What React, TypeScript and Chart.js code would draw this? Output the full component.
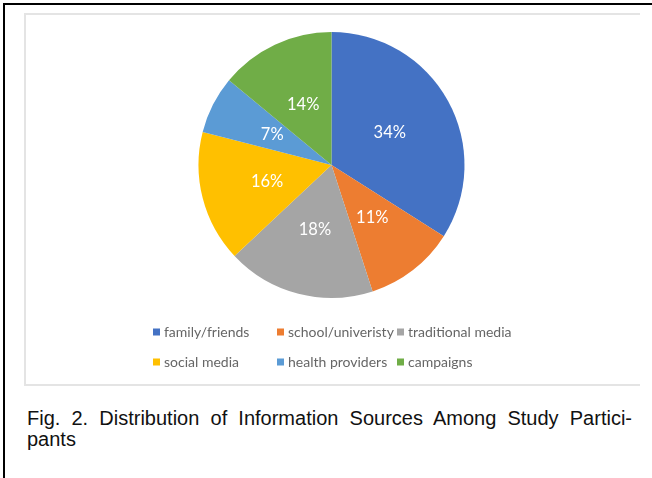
import React, { useEffect, useRef } from "react";
import { Chart, registerables } from "chart.js";

Chart.register(...registerables);

const categories = [
  "family/friends",
  "school/univeristy",
  "traditional media",
  "social media",
  "health providers",
  "campaigns",
];
const shares = [34, 11, 18, 16, 7, 14];
const sliceColors = ["#4472C4", "#ED7D31", "#A5A5A5", "#FFC000", "#5B9BD5", "#70AD47"];
const captionLine1 = "Fig. 2. Distribution of Information Sources Among Study Partici-";
const captionLine2 = "pants";

const labelPlugin = {
  id: "pctLabels",
  afterDatasetsDraw(chart: any) {
    const ctx = chart.ctx;
    const meta = chart.getDatasetMeta(0);
    const data = chart.data.datasets[0].data as number[];
    ctx.save();
    ctx.fillStyle = "#ffffff";
    ctx.font = "16.5px Lato";
    ctx.textAlign = "center";
    ctx.textBaseline = "middle";
    meta.data.forEach((arc: any, i: number) => {
      const p = arc.tooltipPosition(false);
      ctx.fillText(data[i] + "%", p.x, p.y);
    });
    ctx.restore();
  },
};

const legendPlugin = {
  id: "gridLegend",
  afterDraw(chart: any) {
    const ctx = chart.ctx;
    const labels = chart.data.labels as string[];
    const colors = chart.data.datasets[0].backgroundColor as string[];
    const colX = [128, 252, 372];
    const rowY = [318, 348];
    ctx.save();
    ctx.font = "14px Lato";
    ctx.textBaseline = "middle";
    ctx.textAlign = "left";
    labels.forEach((lab, i) => {
      const x = colX[i % 3];
      const y = rowY[Math.floor(i / 3)];
      ctx.fillStyle = colors[i];
      ctx.fillRect(x, y - 3.5, 7, 7);
      ctx.fillStyle = "#666666";
      ctx.fillText(lab, x + 11, y);
    });
    ctx.restore();
  },
};

export default function App() {
  const ref = useRef<HTMLCanvasElement>(null);
  useEffect(() => {
    if (!ref.current) return;
    const chart = new Chart(ref.current, {
      type: "pie",
      data: {
        labels: categories,
        datasets: [
          {
            data: shares,
            backgroundColor: sliceColors,
            borderWidth: 0,
          },
        ],
      },
      options: {
        responsive: false,
        animation: false,
        layout: { padding: { top: 18, bottom: 85, left: 0, right: 0 } },
        plugins: {
          legend: { display: false },
          tooltip: { enabled: false },
        },
      },
      plugins: [labelPlugin, legendPlugin],
    });
    return () => chart.destroy();
  }, []);

  return (
    <div
      style={{
        position: "absolute",
        left: 0,
        top: 0,
        width: 652,
        height: 478,
        overflow: "hidden",
        background: "#fff",
      }}
    >
      <div
        style={{
          position: "absolute",
          left: 3,
          top: 3,
          width: 800,
          height: 800,
          borderLeft: "2px solid #000",
          borderTop: "2px solid #000",
        }}
      />
      <div
        style={{
          position: "absolute",
          left: 24,
          top: 13,
          width: 614,
          height: 369,
          borderLeft: "2px solid #e4e4e4",
          borderTop: "2px solid #e4e4e4",
          borderBottom: "2px solid #e4e4e4",
        }}
      />
      <canvas
        ref={ref}
        width={613}
        height={369}
        style={{ position: "absolute", left: 25, top: 14, width: 613, height: 369 }}
      />
      <div
        style={{
          position: "absolute",
          left: 27,
          top: 408,
          width: 605,
          fontFamily: "'Liberation Sans', Arial, sans-serif",
          fontSize: 20,
          lineHeight: "21px",
          color: "#111",
        }}
      >
        <div style={{ textAlign: "justify", textAlignLast: "justify", whiteSpace: "nowrap" as any }}>
          {captionLine1}
        </div>
        <div>{captionLine2}</div>
      </div>
    </div>
  );
}
